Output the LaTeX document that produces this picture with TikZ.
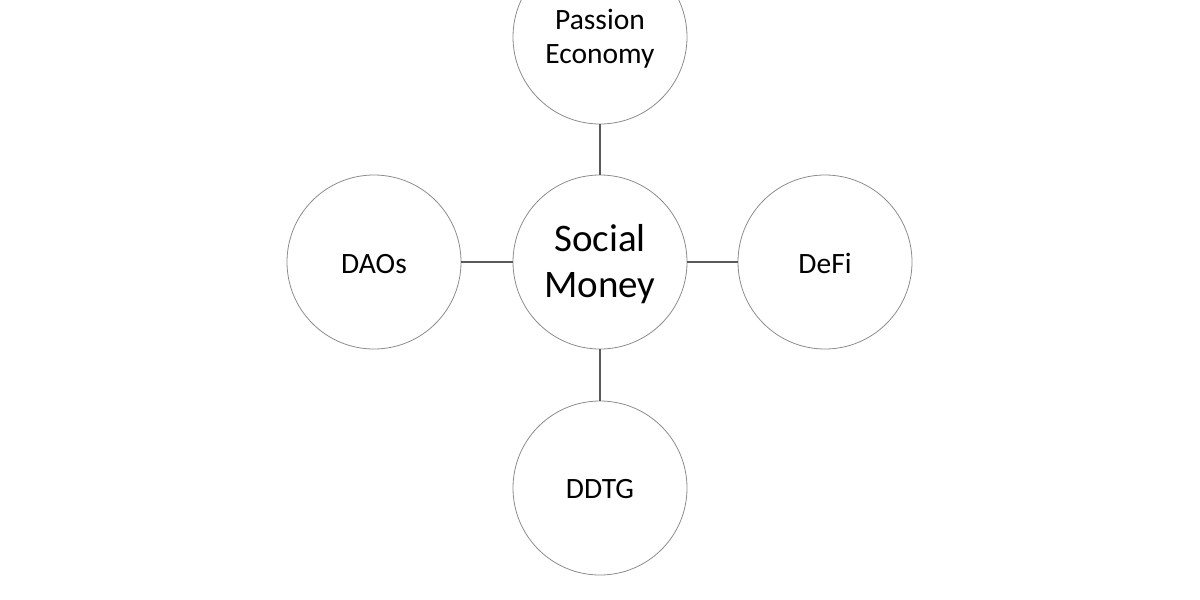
\documentclass[tikz,border=0pt]{standalone}
\usepackage{fontspec}
\setmainfont{Carlito}
\begin{document}
\begin{tikzpicture}[x=1pt,y=-1pt,
  bubble/.style={circle,draw=black!45,line width=0.8pt,minimum size=174pt,inner sep=0pt},
  btext/.style={align=center,inner sep=0pt,font=\fontsize{29.5}{34}\selectfont},
  htext/.style={align=center,inner sep=0pt,font=\fontsize{39}{45}\selectfont},
  link/.style={draw=black!65,line width=1.3pt}]
\useasboundingbox (0,0) rectangle (1200,600);
\node[bubble] (sm) at (600,262) {};
\node[bubble] (pe) at (600,37) {};
\node[bubble] (dao) at (374,262) {};
\node[bubble] (defi) at (825,262) {};
\node[bubble] (ddtg) at (600,488) {};
\node[htext] (smt) at ([yshift=-2.5pt]sm.center) {Social\\[1pt]Money};
\node[btext] (pet) at ([yshift=-2pt]pe.center) {Passion\\Economy};
\node[btext] (daot) at ([yshift=-2pt]dao.center) {DAOs};
\node[btext] (defit) at ([yshift=-1.5pt]defi.center) {DeFi};
\node[btext] (ddtgt) at ([yshift=-1pt]ddtg.center) {DDTG};
\draw[link] (sm) -- (pe);
\draw[link] (sm) -- (dao);
\draw[link] (sm) -- (defi);
\draw[link] (sm) -- (ddtg);
\end{tikzpicture}
\end{document}
